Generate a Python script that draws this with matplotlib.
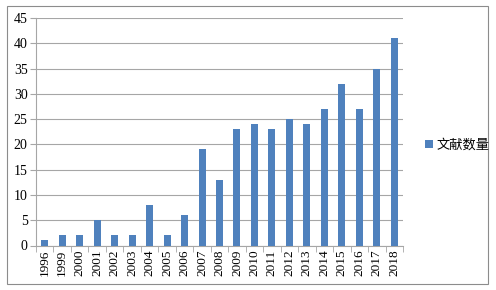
import matplotlib
matplotlib.use("Agg")
import matplotlib.pyplot as plt
from matplotlib.patches import Rectangle
import numpy as np

# data
years = ["1996", "1999", "2000", "2001", "2002", "2003", "2004", "2005", "2006",
         "2007", "2008", "2009", "2010", "2011", "2012", "2013", "2014", "2015",
         "2016", "2017", "2018"]
counts = [1, 2, 2, 5, 2, 2, 8, 2, 6, 19, 13, 23, 24, 23, 25, 24, 27, 32, 27, 35, 41]
series_name = "文献数量"
y_ticks = [0, 5, 10, 15, 20, 25, 30, 35, 40, 45]

bar_color = "#4F81BD"
grid_color = "#A6A6A6"

fig = plt.figure(figsize=(4.96, 2.9), dpi=100)

# outer chart border
fig.patches.append(Rectangle((7 / 496, 1 - 284 / 290), 481 / 496, 278 / 290,
                             transform=fig.transFigure, fill=False,
                             edgecolor="#8C8C8C", linewidth=0.8))

ax = fig.add_axes([36 / 496, 1 - 245.5 / 290, 367 / 496, 227.5 / 290])
x = np.arange(len(years))
bars = ax.bar(x, counts, width=0.4, color=bar_color, label=series_name, zorder=3)

ax.set_xlim(-0.5, len(years) - 0.5)
ax.set_ylim(0, 45)
ax.set_yticks(y_ticks)
ax.set_yticklabels([str(v) for v in y_ticks], fontsize=10, family="Liberation Serif")
ax.set_xticks(x)
ax.set_xticklabels(years, rotation=90, fontsize=9.5, family="Liberation Serif")
ax.tick_params(axis="x", length=0, pad=3)
ax.set_xticks(np.arange(-0.5, len(years)), minor=True)
ax.tick_params(axis="x", which="minor", length=4, color=grid_color, direction="out")
ax.tick_params(axis="y", length=4, color=grid_color, pad=2)

ax.grid(axis="y", color=grid_color, linewidth=0.8, zorder=0)
for side in ["top", "right"]:
    ax.spines[side].set_visible(False)
ax.spines["left"].set_color(grid_color)
ax.spines["bottom"].set_color(grid_color)

leg = fig.legend(handles=[bars], labels=[series_name], loc="center left",
                 bbox_to_anchor=(413 / 496, 1 - 145 / 290), frameon=False,
                 handlelength=0.6, handleheight=0.6, handletextpad=0.3,
                 prop={"family": ["Noto Sans CJK SC", "DejaVu Sans"], "size": 9.5})

fig.savefig("out.png", dpi=100)
